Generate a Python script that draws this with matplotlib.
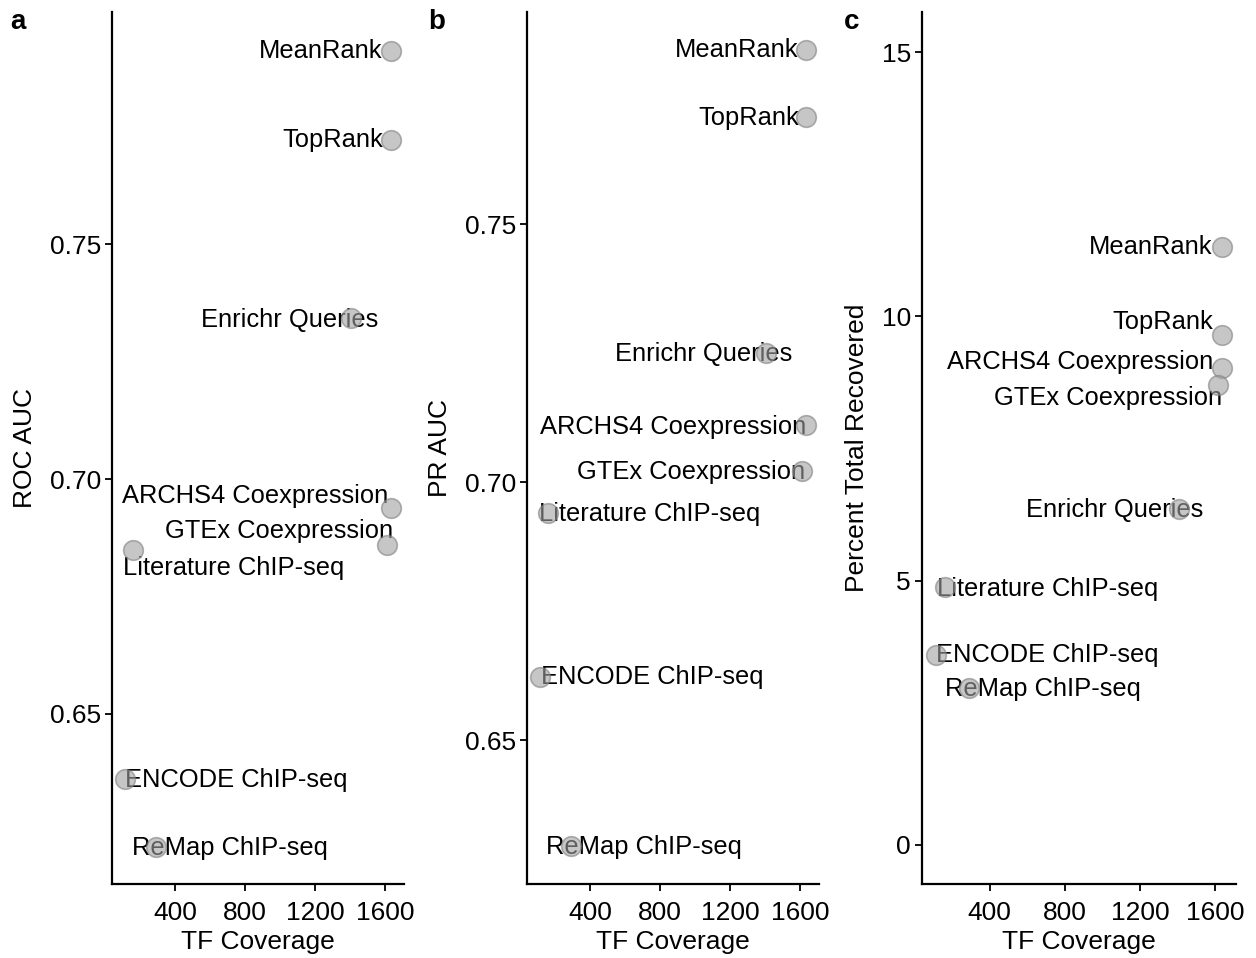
import matplotlib
matplotlib.use("Agg")
import matplotlib.pyplot as plt

plt.rcParams["font.family"] = ["Liberation Sans", "DejaVu Sans"]

methods = ["MeanRank", "TopRank", "Enrichr Queries", "ARCHS4 Coexpression",
           "GTEx Coexpression", "Literature ChIP-seq", "ENCODE ChIP-seq", "ReMap ChIP-seq"]
tf_coverage = [1634, 1634, 1405, 1634, 1612, 160, 115, 292]
roc_auc = [0.7911, 0.7721, 0.7343, 0.6938, 0.6860, 0.6849, 0.6362, 0.6217]
pr_auc = [0.7837, 0.7707, 0.7250, 0.7110, 0.7021, 0.6940, 0.6622, 0.6295]
pct_recovered = [11.32, 9.64, 6.35, 9.02, 8.70, 4.88, 3.59, 2.97]

# label placement: (ha, dx, dy) in pixels, per panel
labels_a = [("right", -8, 0), ("right", -8, 0), ("right", 28, -2), ("right", -3, 12),
            ("right", 6, 14), ("left", -10, -18), ("left", 0, -1), ("left", -24, -1)]
labels_b = [("right", -7, 0), ("right", -7, -1), ("right", 27, -1), ("right", 1, -2),
            ("right", 3, -1), ("left", -9, -1), ("left", 1, 0), ("left", -25, -1)]
labels_c = [("right", -9, 0), ("right", -9, 13), ("right", 25, -1), ("right", -8, 6),
            ("right", 5, -13), ("left", -8, -2), ("left", 0, 0), ("left", -24, -1)]

panels = [
    ("a", roc_auc, "ROC AUC", labels_a, (0.6138, 0.7994), [0.65, 0.70, 0.75], "{:.2f}",
     [0.0892, 0.0772, 0.2325, 0.9102], 18, 22),
    ("b", pr_auc, "PR AUC", labels_b, (0.6221, 0.7911), [0.65, 0.70, 0.75], "{:.2f}",
     [0.4196, 0.0772, 0.2325, 0.9102], 437, 22),
    ("c", pct_recovered, "Percent Total Recovered", labels_c, (-0.74, 15.76), [0, 5, 10, 15], "{:d}",
     [0.7341, 0.0772, 0.2500, 0.9102], 852, 22),
]

fig = plt.figure(figsize=(12.56, 9.58), dpi=100)

for tag, yvals, ylabel, labs, ylim, yticks, fmt, rect, tx, ty in panels:
    ax = fig.add_axes(rect)
    for name, x, y, (ha, dx, dy) in zip(methods, tf_coverage, yvals, labs):
        ax.annotate(name, (x, y), xytext=(dx, dy), textcoords="offset pixels",
                    ha=ha, va="center", fontsize=18.4, color="black", zorder=2)
    ax.scatter(tf_coverage, yvals, s=200, facecolor="#a0a0a0", edgecolor="#808080",
               linewidth=1.2, alpha=0.6, zorder=3)
    ax.set_xlim(40, 1710)
    ax.set_ylim(*ylim)
    ax.set_xticks([400, 800, 1200, 1600])
    ax.set_yticks(yticks)
    ax.set_yticklabels([fmt.format(v) for v in yticks])
    ax.set_xlabel("TF Coverage", fontsize=19, labelpad=4)
    ax.set_ylabel(ylabel, fontsize=19, labelpad=9)
    for side in ("top", "right"):
        ax.spines[side].set_visible(False)
    for side in ("left", "bottom"):
        ax.spines[side].set_linewidth(1.6)
    ax.tick_params(axis="both", direction="out", length=5, width=1.3,
                   labelsize=19, colors="black")
    ax.tick_params(axis="x", pad=7)
    ax.tick_params(axis="y", pad=3)
    fig.text(tx / 1256, 1 - ty / 958, tag, fontsize=20, fontweight="bold",
             ha="center", va="center")

fig.savefig("out.png", dpi=100)
